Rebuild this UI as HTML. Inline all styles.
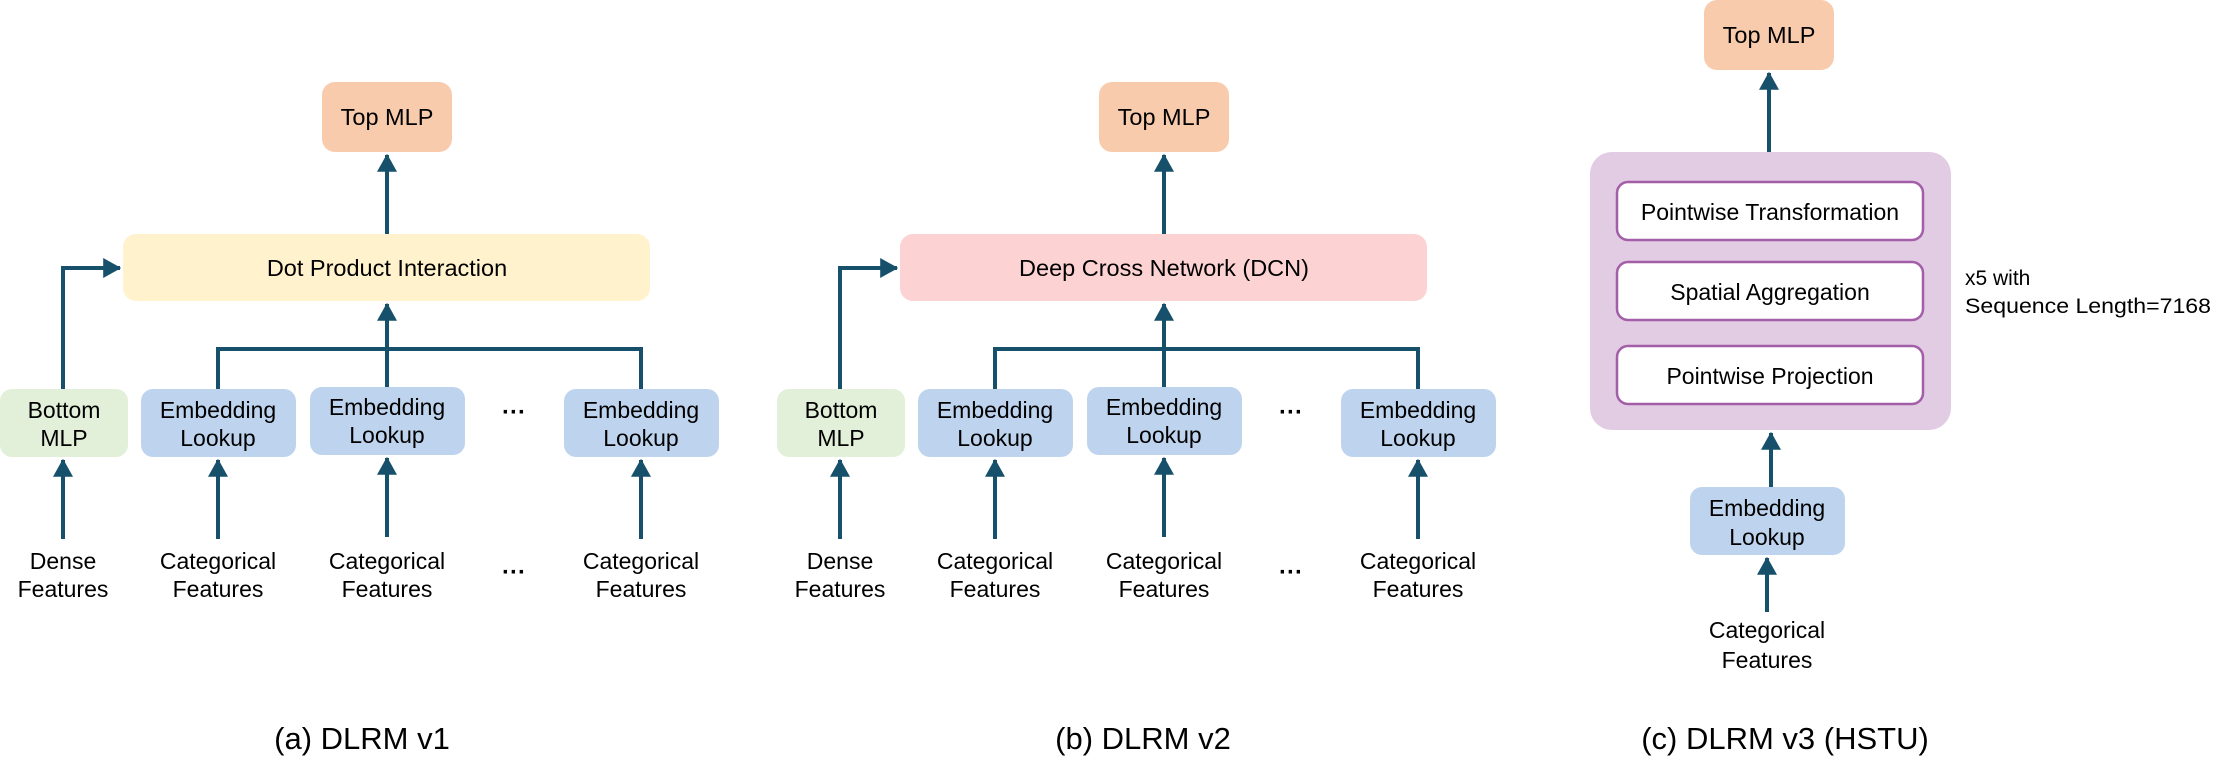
<!DOCTYPE html>
<html><head><meta charset="utf-8"><style>
html,body{margin:0;padding:0;background:#fff;}
svg{display:block;}
text{font-family:"Liberation Sans",Arial,sans-serif;fill:#000;}
</style></head><body>
<svg width="2223" height="775" viewBox="0 0 2223 775" xmlns="http://www.w3.org/2000/svg">
<defs>
<marker id="ah" markerWidth="5" markerHeight="5" refX="4.2" refY="2.5" orient="auto" markerUnits="strokeWidth">
<path d="M0,0 L4.5,2.5 L0,5 z" fill="#17506a"/>
</marker>
</defs>

<g id="pa" font-size="23">
<rect x="322" y="82" width="130" height="70" rx="13" fill="#f8cbad"/>
<text x="387" y="125" font-size="23.5" text-anchor="middle">Top MLP</text>
<line x1="387" y1="234" x2="387" y2="155" stroke="#17506a" stroke-width="4" marker-end="url(#ah)"/>
<rect x="123" y="234" width="527" height="67" rx="13" fill="#fff2cc"/>
<text x="387" y="276" font-size="23.5" text-anchor="middle">Dot Product Interaction</text>
<polyline points="63,389 63,268 120,268" fill="none" stroke="#17506a" stroke-width="4" marker-end="url(#ah)"/>
<polyline points="218,389 218,349 641,349 641,389" fill="none" stroke="#17506a" stroke-width="4"/>
<line x1="387" y1="389" x2="387" y2="304" stroke="#17506a" stroke-width="4" marker-end="url(#ah)"/>
<rect x="0" y="389" width="128" height="68" rx="12" fill="#e2f0d9"/>
<text x="64" y="418" text-anchor="middle">Bottom</text>
<text x="64" y="446" text-anchor="middle">MLP</text>
<rect x="141" y="389" width="155" height="68" rx="12" fill="#bed4ee"/>
<text x="218" y="418" text-anchor="middle">Embedding</text>
<text x="218" y="446" text-anchor="middle">Lookup</text>
<rect x="310" y="387" width="155" height="68" rx="12" fill="#bed4ee"/>
<text x="387" y="415" text-anchor="middle">Embedding</text>
<text x="387" y="443" text-anchor="middle">Lookup</text>
<rect x="564" y="389" width="155" height="68" rx="12" fill="#bed4ee"/>
<text x="641" y="418" text-anchor="middle">Embedding</text>
<text x="641" y="446" text-anchor="middle">Lookup</text>
<text x="514" y="420" font-size="24" text-anchor="middle" font-weight="bold">···</text>
<line x1="63" y1="539" x2="63" y2="460" stroke="#17506a" stroke-width="4" marker-end="url(#ah)"/>
<line x1="218" y1="539" x2="218" y2="460" stroke="#17506a" stroke-width="4" marker-end="url(#ah)"/>
<line x1="387" y1="537" x2="387" y2="458" stroke="#17506a" stroke-width="4" marker-end="url(#ah)"/>
<line x1="641" y1="539" x2="641" y2="460" stroke="#17506a" stroke-width="4" marker-end="url(#ah)"/>
<text x="63" y="569" text-anchor="middle">Dense</text>
<text x="63" y="597" text-anchor="middle">Features</text>
<text x="218" y="569" text-anchor="middle">Categorical</text>
<text x="218" y="597" text-anchor="middle">Features</text>
<text x="387" y="569" text-anchor="middle">Categorical</text>
<text x="387" y="597" text-anchor="middle">Features</text>
<text x="641" y="569" text-anchor="middle">Categorical</text>
<text x="641" y="597" text-anchor="middle">Features</text>
<text x="514" y="580" font-size="24" text-anchor="middle" font-weight="bold">···</text>
<text x="362" y="749" font-size="31" text-anchor="middle">(a) DLRM v1</text>
</g>

<g transform="translate(777,0)" font-size="23">
<rect x="322" y="82" width="130" height="70" rx="13" fill="#f8cbad"/>
<text x="387" y="125" font-size="23.5" text-anchor="middle">Top MLP</text>
<line x1="387" y1="234" x2="387" y2="155" stroke="#17506a" stroke-width="4" marker-end="url(#ah)"/>
<rect x="123" y="234" width="527" height="67" rx="13" fill="#fdd2d2"/>
<text x="387" y="276" font-size="23.5" text-anchor="middle">Deep Cross Network (DCN)</text>
<polyline points="63,389 63,268 120,268" fill="none" stroke="#17506a" stroke-width="4" marker-end="url(#ah)"/>
<polyline points="218,389 218,349 641,349 641,389" fill="none" stroke="#17506a" stroke-width="4"/>
<line x1="387" y1="389" x2="387" y2="304" stroke="#17506a" stroke-width="4" marker-end="url(#ah)"/>
<rect x="0" y="389" width="128" height="68" rx="12" fill="#e2f0d9"/>
<text x="64" y="418" text-anchor="middle">Bottom</text>
<text x="64" y="446" text-anchor="middle">MLP</text>
<rect x="141" y="389" width="155" height="68" rx="12" fill="#bed4ee"/>
<text x="218" y="418" text-anchor="middle">Embedding</text>
<text x="218" y="446" text-anchor="middle">Lookup</text>
<rect x="310" y="387" width="155" height="68" rx="12" fill="#bed4ee"/>
<text x="387" y="415" text-anchor="middle">Embedding</text>
<text x="387" y="443" text-anchor="middle">Lookup</text>
<rect x="564" y="389" width="155" height="68" rx="12" fill="#bed4ee"/>
<text x="641" y="418" text-anchor="middle">Embedding</text>
<text x="641" y="446" text-anchor="middle">Lookup</text>
<text x="514" y="420" font-size="24" text-anchor="middle" font-weight="bold">···</text>
<line x1="63" y1="539" x2="63" y2="460" stroke="#17506a" stroke-width="4" marker-end="url(#ah)"/>
<line x1="218" y1="539" x2="218" y2="460" stroke="#17506a" stroke-width="4" marker-end="url(#ah)"/>
<line x1="387" y1="537" x2="387" y2="458" stroke="#17506a" stroke-width="4" marker-end="url(#ah)"/>
<line x1="641" y1="539" x2="641" y2="460" stroke="#17506a" stroke-width="4" marker-end="url(#ah)"/>
<text x="63" y="569" text-anchor="middle">Dense</text>
<text x="63" y="597" text-anchor="middle">Features</text>
<text x="218" y="569" text-anchor="middle">Categorical</text>
<text x="218" y="597" text-anchor="middle">Features</text>
<text x="387" y="569" text-anchor="middle">Categorical</text>
<text x="387" y="597" text-anchor="middle">Features</text>
<text x="641" y="569" text-anchor="middle">Categorical</text>
<text x="641" y="597" text-anchor="middle">Features</text>
<text x="514" y="580" font-size="24" text-anchor="middle" font-weight="bold">···</text>
<text x="366" y="749" font-size="31" text-anchor="middle">(b) DLRM v2</text>
</g>

<g id="pc" font-size="23">
<rect x="1704" y="0" width="130" height="70" rx="13" fill="#f8cbad"/>
<text x="1769" y="43" font-size="23.5" text-anchor="middle">Top MLP</text>
<line x1="1769" y1="152" x2="1769" y2="73" stroke="#17506a" stroke-width="4" marker-end="url(#ah)"/>
<rect x="1590" y="152" width="361" height="278" rx="22" fill="#e2cce4"/>
<rect x="1617" y="182" width="306" height="58" rx="11" fill="#fff" stroke="#a35ea8" stroke-width="2.5"/>
<text x="1770" y="220" text-anchor="middle">Pointwise Transformation</text>
<rect x="1617" y="262" width="306" height="58" rx="11" fill="#fff" stroke="#a35ea8" stroke-width="2.5"/>
<text x="1770" y="300" text-anchor="middle">Spatial Aggregation</text>
<rect x="1617" y="346" width="306" height="58" rx="11" fill="#fff" stroke="#a35ea8" stroke-width="2.5"/>
<text x="1770" y="384" text-anchor="middle">Pointwise Projection</text>
<text x="1965" y="285" font-size="21">x5 with</text>
<text x="1965" y="313" font-size="21" textLength="246" lengthAdjust="spacingAndGlyphs">Sequence Length=7168</text>
<line x1="1771" y1="487" x2="1771" y2="433" stroke="#17506a" stroke-width="4" marker-end="url(#ah)"/>
<rect x="1690" y="487" width="155" height="68" rx="12" fill="#bed4ee"/>
<text x="1767" y="516" text-anchor="middle">Embedding</text>
<text x="1767" y="545" text-anchor="middle">Lookup</text>
<line x1="1767" y1="612" x2="1767" y2="558" stroke="#17506a" stroke-width="4" marker-end="url(#ah)"/>
<text x="1767" y="638" text-anchor="middle">Categorical</text>
<text x="1767" y="668" text-anchor="middle">Features</text>
<text x="1785" y="749" font-size="31" text-anchor="middle">(c) DLRM v3 (HSTU)</text>
</g>
</svg>
</body></html>
